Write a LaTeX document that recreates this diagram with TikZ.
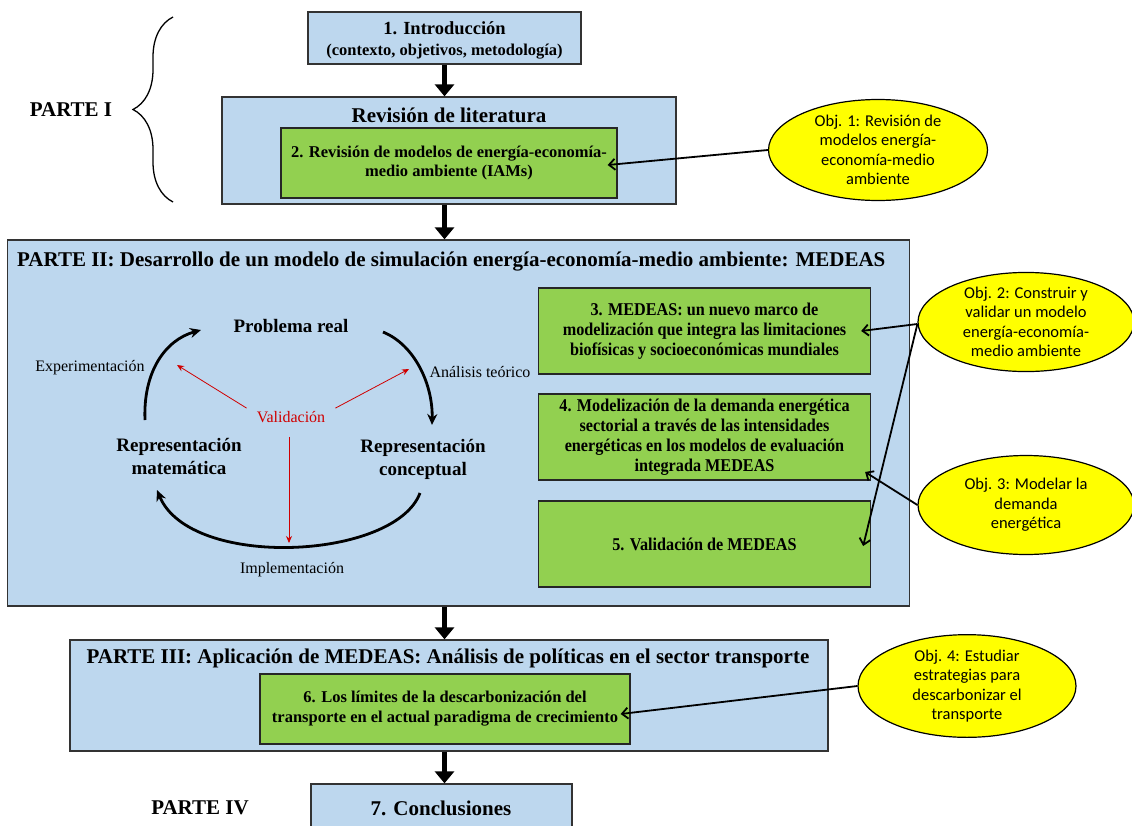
\documentclass[tikz,border=0pt]{standalone}
\usepackage{fontspec}
\setmainfont{Liberation Serif}
\newfontfamily\condserif[FakeStretch=0.9]{Liberation Serif}
\newfontfamily\calibri{Carlito}
\usetikzlibrary{arrows.meta,decorations.pathreplacing,shapes.geometric}

\definecolor{boxblue}{HTML}{BDD7EE}
\definecolor{boxgreen}{HTML}{92D050}
\definecolor{objyellow}{HTML}{FFFF00}
\definecolor{valred}{HTML}{D00000}

\tikzset{
  bluebox/.style={draw=black!80, fill=boxblue, line width=1.3pt, inner sep=0pt},
  greenbox/.style={draw=black!85, fill=boxgreen, line width=1.3pt, inner sep=0pt,
    align=center, font=\fontsize{16.5}{18.5}\selectfont\bfseries},
  widegreen/.style={greenbox, font=\condserif\fontsize{18}{20}\selectfont\bfseries},
  objell/.style={ellipse, draw=black, fill=objyellow, line width=1.2pt, inner sep=0pt,
    align=center, font=\calibri\fontsize{16.5}{19.5}\selectfont},
  title/.style={font=\fontsize{21}{24}\selectfont\bfseries, inner sep=0pt},
  cyclab/.style={font=\fontsize{19}{23}\selectfont\bfseries, align=center, inner sep=0pt},
  steplab/.style={font=\fontsize{16}{19}\selectfont, inner sep=0pt},
  flow/.style={line width=5.5pt, -{Triangle[width=19pt,length=12pt]}},
  objarrow/.style={line width=1.8pt, -{Straight Barb[length=6pt,width=11pt]}},
  cycarrow/.style={line width=2.8pt, -{Stealth[length=11pt,width=10pt]}},
  valarrow/.style={valred, line width=0.8pt, -{Stealth[length=7pt,width=6pt]}},
}

\begin{document}
\begin{tikzpicture}[x=1pt,y=-1pt]
\useasboundingbox (0,0) rectangle (1132,825);

% ---------- Part I ----------
\node[bluebox, minimum width=273pt, minimum height=52pt] (intro) at (444.5,38) {};
\node[font=\fontsize{18.5}{21}\selectfont\bfseries, inner sep=0pt] (introtitle) at (444.5,28)
  {1. Introducción};
\node[font=\fontsize{16.5}{19}\selectfont\bfseries, inner sep=0pt] (introsub) at (444.5,52)
  {(contexto, objetivos, metodología)};

\node[bluebox, minimum width=454pt, minimum height=107pt] (lit) at (449,150.5) {};
\node[title] (littitle) at (449,115) {Revisión de literatura};
\node[greenbox, minimum width=336pt, minimum height=70pt] (c2) at (449,163)
  {2. Revisión de modelos de energía-economía-\\medio ambiente (IAMs)};

\node[objell, minimum width=219pt, minimum height=101pt] (o1) at (878,150)
  {Obj. 1: Revisión de\\modelos energía-\\economía-medio\\ambiente};

\node[title] (p1) at (71,110) {PARTE I};
\coordinate (brb) at (173,202);
\coordinate (brt) at (173,17);
\draw[line width=1.3pt, decorate, decoration={brace, amplitude=40pt}] (brb) -- (brt);

\draw[flow] (intro.south) -- (intro.south |- lit.north);

% ---------- Part II ----------
\node[bluebox, minimum width=902pt, minimum height=366pt] (p2) at (458.5,423) {};
\draw[flow] (intro.south |- lit.south) -- (intro.south |- p2.north);
\node[title, anchor=west] (p2title) at (17,262)
  {PARTE II: Desarrollo de un modelo de simulación energía-economía-medio ambiente: MEDEAS};

\node[widegreen, minimum width=332pt, minimum height=86pt] (c3) at (704.5,331)
  {3. MEDEAS: un nuevo marco de\\modelización que integra las limitaciones\\biofísicas y socioeconómicas mundiales};
\node[widegreen, minimum width=332pt, minimum height=86pt] (c4) at (704.5,437)
  {4. Modelización de la demanda energética\\sectorial a través de las intensidades\\energéticas en los modelos de evaluación\\integrada MEDEAS};
\node[widegreen, minimum width=332pt, minimum height=86pt] (c5) at (704.5,544)
  {5. Validación de MEDEAS};

\node[objell, minimum width=216pt, minimum height=99pt] (o2) at (1026,322)
  {Obj. 2: Construir y\\validar un modelo\\energía-economía-\\medio ambiente};
\node[objell, minimum width=216pt, minimum height=99pt] (o3) at (1026,505)
  {Obj. 3: Modelar la\\demanda\\energética};

% modelling cycle
\node[cyclab] (real) at (291,326) {Problema real};
\node[cyclab] (conc) at (423,459) {Representación\\conceptual};
\node[cyclab] (mat) at (179,456) {Representación\\matemática};
\node[steplab, valred] (val) at (291,417) {Validación};
\node[steplab] (exp) at (90,368) {Experimentación};
\node[steplab] (ana) at (480,372) {Análisis teórico};
\node[steplab] (imp) at (292,570) {Implementación};

\coordinate (e1) at (145,420);
\coordinate (e2) at (201,330);
\coordinate (a1) at (383,332);
\coordinate (a2) at (432,425);
\coordinate (i1) at (420,493);
\coordinate (i2) at (157,490);
\draw[cycarrow] (e1) .. controls (143,372) and (165,340) .. (e2);
\draw[cycarrow] (a1) .. controls (415,345) and (433,385) .. (a2);
\draw[cycarrow] (i1) .. controls (395,560) and (190,570) .. (i2);

\draw[valarrow] (val.north west) ++(-10,-3) coordinate (v1) -- (177,365);
\draw[valarrow] (val.north east) ++(10,-3) coordinate (v2) -- (409,369);
\draw[valarrow] (val.south) ++(-2,14) coordinate (v3) -- (289,543);

% ---------- Part III ----------
\node[bluebox, minimum width=758pt, minimum height=111pt] (p3) at (449,695.5) {};
\draw[flow] (intro.south |- p2.south) -- (intro.south |- p3.north);
\node[title] (p3title) at (448,658)
  {PARTE III: Aplicación de MEDEAS: Análisis de políticas en el sector transporte};
\node[greenbox, minimum width=370pt, minimum height=70pt] (c6) at (445,709)
  {\raisebox{-3pt}{\parbox{370pt}{\centering 6. Los límites de la descarbonización del\\[1.5pt]transporte en el actual paradigma de crecimiento}}};

\node[objell, minimum width=218pt, minimum height=100pt] (o4) at (967,686)
  {Obj. 4: Estudiar\\estrategias para\\descarbonizar el\\transporte};

% ---------- Part IV ----------
\node[bluebox, minimum width=261pt, minimum height=60pt] (c7) at (441.5,814) {};
\node[title] (c7text) at (441,808) {7. Conclusiones};
\node[title] (p4) at (200,808) {PARTE IV};
\draw[flow] (intro.south |- p3.south) -- (intro.south |- c7.north);

% ---------- objectives ----------
\draw[objarrow] (o1.west) -- ([xshift=-10pt,yshift=-2pt]c2.east);
\draw[objarrow] ([yshift=-2pt]o2.west) -- ([xshift=-10pt]c3.east);
\draw[objarrow] ([yshift=-2pt]o2.west) -- ([xshift=-8pt,yshift=-2pt]c5.east);
\draw[objarrow] (o3.west) -- ([xshift=-6pt,yshift=-35pt]c4.east);
\draw[objarrow] (o4.west) -- ([xshift=-10pt,yshift=-5pt]c6.east);
\end{tikzpicture}
\end{document}
